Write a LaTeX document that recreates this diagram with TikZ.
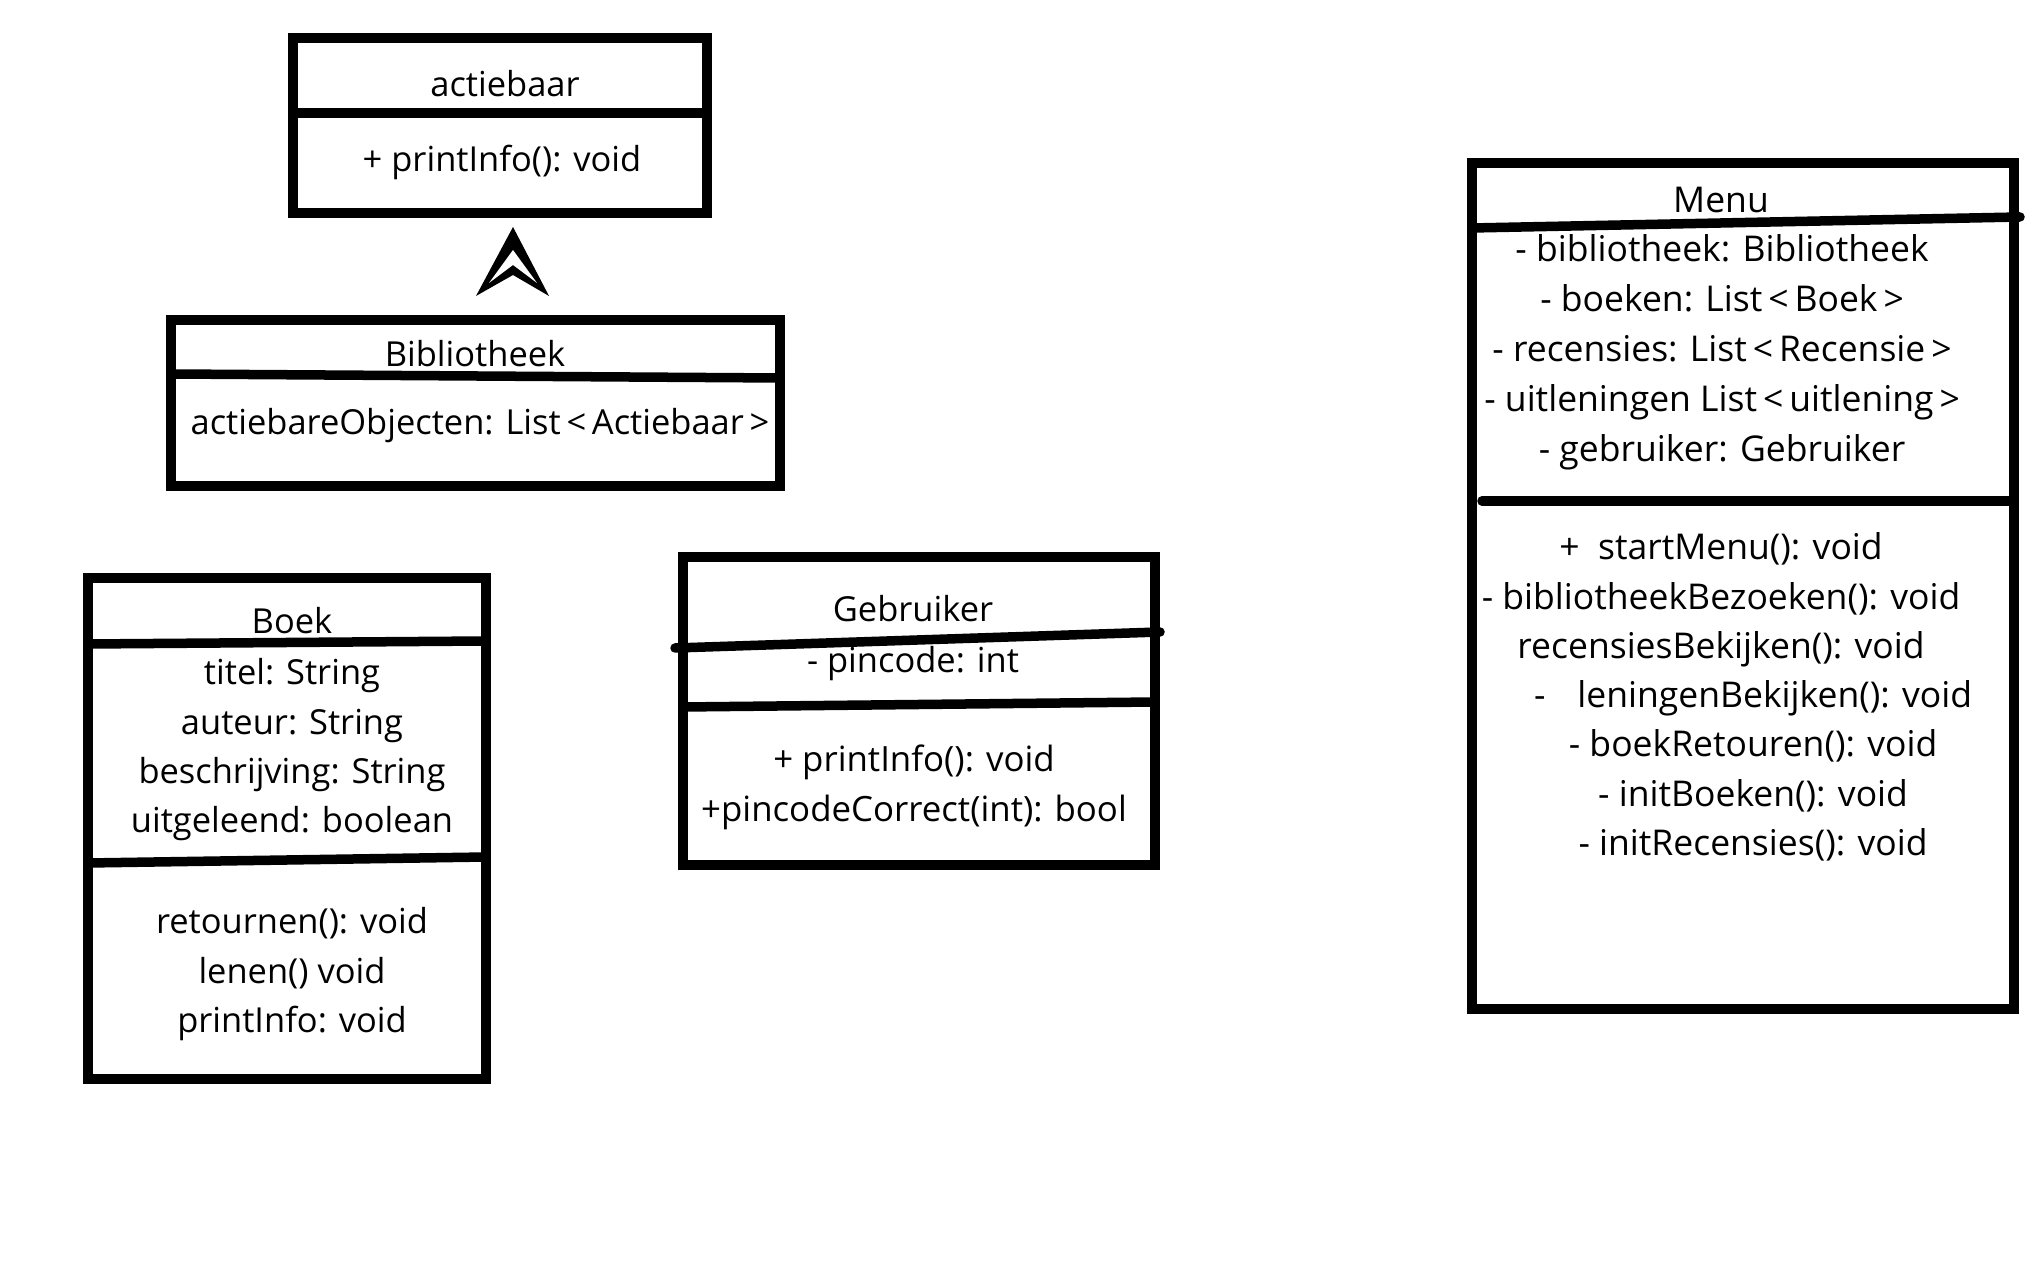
\documentclass[tikz,border=0pt]{standalone}
\usepackage{fontspec}
\setmainfont{Open Sans}
\usetikzlibrary{positioning}

\begin{document}
\begin{tikzpicture}[x=0.01cm, y=-0.01cm,
  classbox/.style={draw, line width=0.1cm, inner sep=0pt},
  divider/.style={line width=0.095cm, line cap=round},
  members/.style={anchor=base, inner sep=0pt, font=\fontsize{9.8}{14}\selectfont}]

\fill[white] (0,0) rectangle (2034,1277);
\useasboundingbox (0,0) rectangle (2034,1277);

\node[classbox, minimum width=4.14cm, minimum height=1.75cm] (actiebaar) at (500,125.5) {};
\node[classbox, minimum width=6.09cm, minimum height=1.66cm] (bibliotheek) at (475.5,403) {};
\node[classbox, minimum width=3.98cm, minimum height=5.01cm] (boek) at (287,828.5) {};
\node[classbox, minimum width=4.72cm, minimum height=3.07cm] (gebruiker) at (919,711) {};
\node[classbox, minimum width=5.42cm, minimum height=8.46cm] (menu) at (1743,586) {};

\node[members] (actiebaarName) at (505,97) {actiebaar};
\node[members] (actiebaarOps) at (502,172) {+ printInfo(): void};

\node[members] (bibliotheekName) at (475,367) {Bibliotheek};
\node[members] (bibliotheekAttr) at (480,435) {actiebareObjecten: List\,<\,Actiebaar\,>};

\node[members] (boekName) at (292,634) {Boek};
\node[members] (boekAttr) at (292,685) {
\begin{minipage}[t]{5cm}\centering
titel: String\\
auteur: String\\
beschrijving: String\\
uitgeleend: boolean
\end{minipage}
};
\node[members] (boekOps) at (292,934) {
\begin{minipage}[t]{5cm}\centering
retournen(): void\\
lenen() void\\
printInfo: void
\end{minipage}
};

\node[members] (gebruikerName) at (913,622) {Gebruiker};
\node[members] (gebruikerAttr) at (913,673) {- pincode: int};
\node[members, font=\fontsize{9.9}{14.2}\selectfont] (gebruikerOps) at (914,772) {
\begin{minipage}[t]{6cm}\centering
+ printInfo(): void\\
+pincodeCorrect(int): bool
\end{minipage}
};

\node[members, font=\fontsize{10.1}{14}\selectfont] (menuName) at (1721,213) {Menu};
\node[members, font=\fontsize{10.1}{14.2}\selectfont] (menuAttr) at (1722,262) {
\begin{minipage}[t]{6cm}\centering
- bibliotheek: Bibliotheek\\
- boeken: List\,<\,Boek\,>\\
- recensies: List\,<\,Recensie\,>\\
- uitleningen List\,<\,uitlening\,>\\
- gebruiker: Gebruiker
\end{minipage}
};
\node[members, font=\fontsize{10.1}{14}\selectfont] (menuOps) at (1721,560) {
\begin{minipage}[t]{6cm}\centering
+\ \ startMenu(): void\\
- bibliotheekBezoeken(): void\\
recensiesBekijken(): void\\
\hspace*{0.64cm}-\hspace{0.9em}leningenBekijken(): void\\
\hspace*{0.64cm}- boekRetouren(): void\\
\hspace*{0.64cm}- initBoeken(): void\\
\hspace*{0.64cm}- initRecensies(): void
\end{minipage}
};

\draw[divider] (293,113) -- (707,113);
\draw[divider] (171,374) -- (780,378);
\draw[divider] (88,644) -- (486,641);
\draw[divider] (88,863) -- (486,857);
\draw[divider] (675,648) -- (1160,632);
\draw[divider] (683,707) -- (1155,702);
\draw[divider] (1472,228) -- (2020,217);
\draw[divider] (1482,501) -- (2014,501);

\fill (513,227) -- (476,296) -- (513,275) -- (549,296) -- cycle;
\fill[white] (513,250) -- (489,283) -- (513,265) -- (537,283) -- cycle;

\end{tikzpicture}
\end{document}
